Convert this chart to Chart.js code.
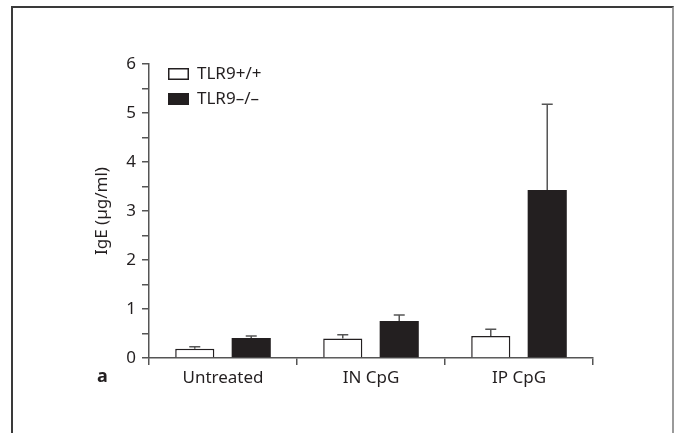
<!DOCTYPE html>
<html lang="en">
<head>
    <meta charset="UTF-8">
    <meta name="viewport" content="width=device-width, initial-scale=1.0">
    <title>IgE - TLR9</title>
    <script src="https://cdn.jsdelivr.net/npm/chart.js"></script>
    <style>
        * {
            margin: 0;
            padding: 0;
            box-sizing: border-box;
        }
        body {
            width: 674px;
            height: 433px;
            background: #fff;
            overflow: hidden;
            position: relative;
        }
        .frame {
            position: absolute;
            left: 11px;
            top: 6px;
            width: 663px;
            height: 440px;
            border: 2px solid #3a3a3a;
            border-right-color: #9a9a9a;
            border-bottom: none;
        }
        .wrap {
            position: absolute;
            left: 0;
            top: 0;
            width: 674px;
            height: 433px;
        }
    </style>
</head>
<body>
    <div class="frame"></div>
    <div class="wrap"><canvas id="chart" width="674" height="433"></canvas></div>

    <script>
        // Dữ liệu
        const categories = ['Untreated', 'IN CpG', 'IP CpG'];
        const seriesNames = ['TLR9+/+', 'TLR9\u2013/\u2013'];
        const wildType = [0.19, 0.40, 0.45];
        const wildTypeErr = [0.04, 0.075, 0.135];
        const knockout = [0.41, 0.755, 3.43];
        const knockoutErr = [0.04, 0.125, 1.75];
        const yMin = 0;
        const yMax = 6;
        const yStep = 0.5;

        const ink = '#231f20';
        const axisColor = '#555';
        const fontName = "'Noto Sans', sans-serif";

        // Thanh sai số (chỉ phía trên)
        const errorBars = {
            id: 'errorBars',
            afterDatasetsDraw(chart) {
                const ctx = chart.ctx;
                const y = chart.scales.y;
                chart.data.datasets.forEach((ds, i) => {
                    const meta = chart.getDatasetMeta(i);
                    meta.data.forEach((bar, j) => {
                        const top = y.getPixelForValue(ds.data[j] + ds.errors[j]);
                        ctx.save();
                        ctx.strokeStyle = axisColor;
                        ctx.lineWidth = 1.5;
                        ctx.beginPath();
                        ctx.moveTo(bar.x, bar.y);
                        ctx.lineTo(bar.x, top);
                        ctx.moveTo(bar.x - 5.5, top);
                        ctx.lineTo(bar.x + 5.5, top);
                        ctx.stroke();
                        ctx.restore();
                    });
                });
            }
        };

        // Chú thích bên trong vùng biểu đồ + nhãn "a"
        const innerLegend = {
            id: 'innerLegend',
            afterDraw(chart) {
                const ctx = chart.ctx;
                const area = chart.chartArea;
                ctx.save();
                chart.data.datasets.forEach((ds, i) => {
                    const bx = area.left + 19;
                    const by = area.top + 4 + i * 25;
                    ctx.fillStyle = ds.backgroundColor;
                    ctx.fillRect(bx, by, 21, 12);
                    ctx.strokeStyle = ink;
                    ctx.lineWidth = 1.5;
                    ctx.strokeRect(bx + 0.75, by + 0.75, 19.5, 10.5);
                    ctx.fillStyle = ink;
                    ctx.font = '17px ' + fontName;
                    ctx.textBaseline = 'middle';
                    ctx.textAlign = 'left';
                    ctx.fillText(ds.label, bx + 29, by + 6);
                });
                ctx.font = 'bold 18px ' + fontName;
                ctx.textBaseline = 'middle';
                ctx.fillText('a', 97, 377);
                ctx.restore();
            }
        };

        new Chart(document.getElementById('chart'), {
            type: 'bar',
            data: {
                labels: categories,
                datasets: [{
                    label: seriesNames[0],
                    data: wildType,
                    errors: wildTypeErr,
                    backgroundColor: '#fff',
                    borderColor: ink,
                    borderWidth: 1.5
                }, {
                    label: seriesNames[1],
                    data: knockout,
                    errors: knockoutErr,
                    backgroundColor: ink,
                    borderColor: ink,
                    borderWidth: 0
                }]
            },
            options: {
                responsive: false,
                animation: false,
                devicePixelRatio: 1,
                categoryPercentage: 0.763,
                barPercentage: 0.693,
                layout: { padding: { left: 92, right: 81, top: 64, bottom: 0 } },
                plugins: {
                    legend: { display: false },
                    tooltip: { enabled: false }
                },
                scales: {
                    x: {
                        offset: true,
                        grid: { offset: true, drawOnChartArea: false, tickLength: 7, color: axisColor, lineWidth: 1.5 },
                        border: { color: axisColor, width: 1.5 },
                        ticks: { color: ink, padding: 3, maxRotation: 0, font: { family: fontName, size: 17 } },
                        afterFit(scale) { scale.height = 75; }
                    },
                    y: {
                        min: yMin,
                        max: yMax,
                        grid: { drawOnChartArea: false, tickLength: 7, color: axisColor, lineWidth: 1.5 },
                        border: { color: axisColor, width: 1.5 },
                        ticks: {
                            stepSize: yStep,
                            autoSkip: false,
                            color: ink,
                            padding: 6,
                            font: { family: fontName, size: 17 },
                            callback: v => Number.isInteger(v) ? v : ''
                        },
                        title: {
                            display: true,
                            text: 'IgE (\u00b5g/ml)',
                            color: ink,
                            padding: 0,
                            font: { family: fontName, size: 17 }
                        },
                        afterFit(scale) { scale.width = 57; }
                    }
                }
            },
            plugins: [errorBars, innerLegend]
        });
    </script>
</body>
</html>
